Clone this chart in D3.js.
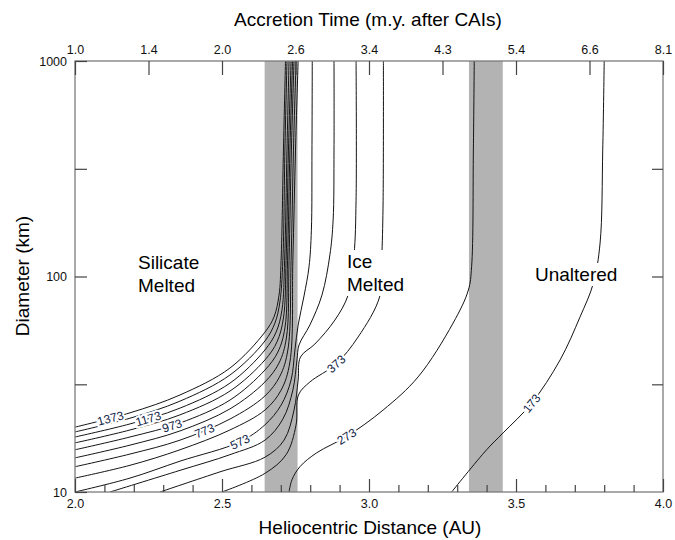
<!DOCTYPE html>
<html>
<head>
<meta charset="utf-8">
<script src="https://cdn.jsdelivr.net/npm/d3@7"></script>
<style>
  body { margin: 0; background: #fff; }
  text { font-family: "Liberation Sans", Arial, Helvetica, sans-serif; }
</style>
</head>
<body>
<div id="chart"></div>
<script>
// ---- data: [heliocentric distance AU, diameter km] ----
const c1373 = [[2.000,20.0],[2.187,23.3],[2.357,28.2],[2.527,37.6],[2.646,55.2],[2.677,65.0],[2.694,82.0],[2.701,119],[2.709,386],[2.716,1000]];
const c1273 = [[2.000,19.0],[2.187,22.0],[2.357,26.4],[2.527,34.9],[2.646,50.2],[2.680,60.8],[2.697,76.2],[2.707,119],[2.714,386],[2.721,1000]];
const c1173 = [[2.000,18.0],[2.187,20.7],[2.357,24.5],[2.527,32.0],[2.646,45.6],[2.684,55.2],[2.704,70.0],[2.713,119],[2.721,386],[2.728,1000]];
const c1073 = [[2.000,16.9],[2.187,19.4],[2.357,22.8],[2.527,29.4],[2.646,41.0],[2.687,49.7],[2.709,64.2],[2.718,119],[2.726,386],[2.735,1000]];
const c973  = [[2.000,15.7],[2.187,18.0],[2.357,20.9],[2.527,26.7],[2.646,36.8],[2.690,44.6],[2.714,57.7],[2.723,119],[2.731,386],[2.740,1000]];
const c873  = [[2.000,14.4],[2.187,16.5],[2.357,19.2],[2.527,24.3],[2.646,32.4],[2.694,39.7],[2.719,51.8],[2.728,119],[2.736,386],[2.745,1000]];
const c773  = [[2.000,13.1],[2.187,15.0],[2.357,17.4],[2.527,21.8],[2.646,27.9],[2.697,34.5],[2.724,45.6],[2.735,119],[2.743,386],[2.752,1000]];
const c673  = [[2.000,11.6],[2.187,13.3],[2.357,15.7],[2.527,19.4],[2.646,24.0],[2.701,29.7],[2.731,40.1],[2.741,119],[2.750,386],[2.759,1000]];
const c573  = [[2.000,10.0],[2.187,11.6],[2.357,13.9],[2.561,17.1],[2.646,20.5],[2.701,25.3],[2.735,33.1],[2.748,45.6],[2.759,59.6],[2.779,81.2],[2.796,111],[2.804,164],[2.806,386],[2.807,1000]];
const c473  = [[2.119,10.0],[2.357,12.6],[2.527,14.9],[2.646,17.4],[2.707,21.8],[2.741,29.7],[2.755,41.0],[2.762,48.1],[2.799,59.6],[2.840,82.0],[2.867,126],[2.878,183],[2.881,386],[2.881,1000]];
const c423  = [[2.289,10.0],[2.493,12.4],[2.646,14.5],[2.711,17.4],[2.745,24.0],[2.759,33.1],[2.767,42.3],[2.816,48.6],[2.884,62.8],[2.929,82.0],[2.949,126],[2.956,226],[2.956,1000]];
const c373  = [[2.500,10.0],[2.646,12.2],[2.718,14.9],[2.752,20.5],[2.760,28.2],[2.799,32.4],[2.888,39.3],[2.963,52.4],[3.037,81.2],[3.044,128.5],[3.048,226],[3.049,1000]];
const c273  = [[2.728,10.0],[2.738,11.4],[2.765,13.1],[2.822,15.2],[2.924,18.1],[3.048,24.0],[3.167,34.2],[3.286,60.8],[3.338,86.5],[3.349,111],[3.355,386],[3.358,1000]];
const c173  = [[3.281,10.0],[3.400,15.7],[3.456,18.8],[3.553,25.8],[3.650,41.0],[3.718,65.0],[3.763,92.9],[3.786,143],[3.795,386],[3.800,1000]];

const contourLevels = [1373,1273,1173,1073,973,873,773,673,573,473,423,373,273,173];
const contourPaths  = [c1373,c1273,c1173,c1073,c973,c873,c773,c673,c573,c473,c423,c373,c273,c173];

// labelled contours and the distance (AU) where the label sits
const labelLevels = [1373,1173,973,773,573,373,273,173];
const labelAU     = [2.12,2.25,2.33,2.44,2.56,2.888,2.924,3.553];

// shaded distance bands (AU)
const bands = [[2.645,2.757],[3.34,3.455]];

// axes
const distMajor = [2.0,2.5,3.0,3.5,4.0];
const distMinor = [2.1,2.2,2.3,2.4,2.6,2.7,2.8,2.9,3.1,3.2,3.3,3.4,3.6,3.7,3.8,3.9];
const accretionPos    = [2.0,2.25,2.5,2.75,3.0,3.25,3.5,3.75,4.0];
const accretionLabels = ["1.0","1.4","2.0","2.6","3.4","4.3","5.4","6.6","8.1"];
const diamMajor = [10,100,1000];
const diamMinor = [31.6,316];

// ---- chart ----
const width = 675, height = 540;
const x = d3.scaleLinear().domain([2.0, 4.0]).range([75, 663]);
const y = d3.scaleLog().domain([10, 1000]).range([492, 61]);

const svg = d3.select('#chart').append('svg')
  .attr('width', width)
  .attr('height', height);

svg.append('clipPath').attr('id', 'plotClip')
  .append('rect')
  .attr('x', x(2.0)).attr('y', y(1000))
  .attr('width', x(4.0) - x(2.0)).attr('height', y(10) - y(1000));

// gray bands
svg.append('g').selectAll('rect')
  .data(bands)
  .enter()
  .append('rect')
    .attr('x', d => x(d[0]))
    .attr('width', d => x(d[1]) - x(d[0]))
    .attr('y', y(1000))
    .attr('height', y(10) - y(1000))
    .style('fill', '#b3b3b3');

// contour lines
const line = d3.line()
  .x(d => x(d[0]))
  .y(d => y(d[1]))
  .curve(d3.curveCatmullRom.alpha(0.5));

const lineG = svg.append('g').attr('clip-path', 'url(#plotClip)');
const paths = lineG.selectAll('path')
  .data(contourPaths)
  .enter()
  .append('path')
    .attr('d', d => line(d))
    .style('fill', 'none')
    .style('stroke', '#141414')
    .style('stroke-width', 1);

// region labels with white boxes (they cut the lines)
function boxedText(lines, px, py, lh) {
  const g = svg.append('g');
  const t = g.append('text')
    .attr('x', px).attr('y', py)
    .style('font-size', '19px').style('fill', '#000');
  lines.forEach((s, i) => {
    t.append('tspan').attr('x', px).attr('dy', i === 0 ? 0 : lh).text(s);
  });
  const bb = t.node().getBBox();
  g.insert('rect', 'text')
    .attr('x', bb.x - 2).attr('y', bb.y - 1)
    .attr('width', bb.width + 4).attr('height', bb.height + 2)
    .style('fill', '#fff');
}
boxedText(['Silicate', 'Melted'], 138, 269, 23);
boxedText(['Ice', 'Melted'], 347, 268, 23);
boxedText(['Unaltered'], 535, 281, 23);

// contour labels, placed on their lines and turned with them
function pointAtX(node, tx) {
  const L = node.getTotalLength();
  let best = 0, bd = Infinity;
  for (let s = 0; s <= L; s += 0.5) {
    const p = node.getPointAtLength(s);
    const dd = Math.abs(p.x - tx);
    if (dd < bd) { bd = dd; best = s; }
  }
  const p = node.getPointAtLength(best);
  const a = node.getPointAtLength(Math.max(0, best - 8));
  const b = node.getPointAtLength(Math.min(L, best + 8));
  return { x: p.x, y: p.y, ang: Math.atan2(b.y - a.y, b.x - a.x) * 180 / Math.PI };
}

const pathNodes = paths.nodes();
labelLevels.forEach((lev, i) => {
  const node = pathNodes[contourLevels.indexOf(lev)];
  const p = pointAtX(node, x(labelAU[i]));
  svg.append('text')
    .attr('transform', 'translate(' + p.x + ',' + p.y + ') rotate(' + p.ang + ')')
    .attr('text-anchor', 'middle')
    .attr('dy', '0.35em')
    .style('font-size', '12px')
    .style('fill', '#0f1d45')
    .style('stroke', '#fff')
    .style('stroke-width', 4)
    .style('paint-order', 'stroke')
    .text(lev);
});

// frame
svg.append('rect')
  .attr('x', x(2.0)).attr('y', y(1000))
  .attr('width', x(4.0) - x(2.0)).attr('height', y(10) - y(1000))
  .style('fill', 'none').style('stroke', '#7c7c7c').style('stroke-width', 1.3);

function styleAxis(g) {
  g.select('.domain').remove();
  g.selectAll('line').style('stroke', '#444').style('stroke-width', 1.2);
  g.selectAll('text').style('font-size', '12.5px').style('fill', '#111')
    .style('font-family', '"Liberation Sans", Arial, sans-serif');
}

// bottom axis
svg.append('g')
  .attr('transform', 'translate(0,' + y(10) + ')')
  .call(d3.axisBottom(x).tickValues(distMajor).tickFormat(d3.format('.1f')).tickSize(-13).tickPadding(7))
  .call(styleAxis);
svg.append('g')
  .attr('transform', 'translate(0,' + y(10) + ')')
  .call(d3.axisBottom(x).tickValues(distMinor).tickFormat('').tickSize(-7))
  .call(styleAxis);

// top axis: accretion time
svg.append('g')
  .attr('transform', 'translate(0,' + y(1000) + ')')
  .call(d3.axisTop(x).tickValues(accretionPos).tickFormat((d, i) => accretionLabels[i]).tickSize(-14).tickPadding(7))
  .call(styleAxis);

// left axis
svg.append('g')
  .attr('transform', 'translate(' + x(2.0) + ',0)')
  .call(d3.axisLeft(y).tickValues(diamMajor).tickFormat(d3.format('d')).tickSize(-12).tickPadding(8))
  .call(styleAxis);
svg.append('g')
  .attr('transform', 'translate(' + x(2.0) + ',0)')
  .call(d3.axisLeft(y).tickValues(diamMinor).tickFormat('').tickSize(-12))
  .call(styleAxis);

// right axis
svg.append('g')
  .attr('transform', 'translate(' + x(4.0) + ',0)')
  .call(d3.axisRight(y).tickValues(diamMinor.concat([100])).tickFormat('').tickSize(-11))
  .call(styleAxis);

// axis titles
svg.append('text')
  .attr('x', 368).attr('y', 26)
  .attr('text-anchor', 'middle')
  .style('font-size', '19px')
  .text('Accretion Time (m.y. after CAIs)');

svg.append('text')
  .attr('x', 370).attr('y', 534)
  .attr('text-anchor', 'middle')
  .style('font-size', '19px')
  .text('Heliocentric Distance (AU)');

svg.append('text')
  .attr('transform', 'translate(22,276) rotate(-90)')
  .attr('text-anchor', 'middle')
  .attr('dy', '0.35em')
  .style('font-size', '19px')
  .text('Diameter (km)');
</script>
</body>
</html>
